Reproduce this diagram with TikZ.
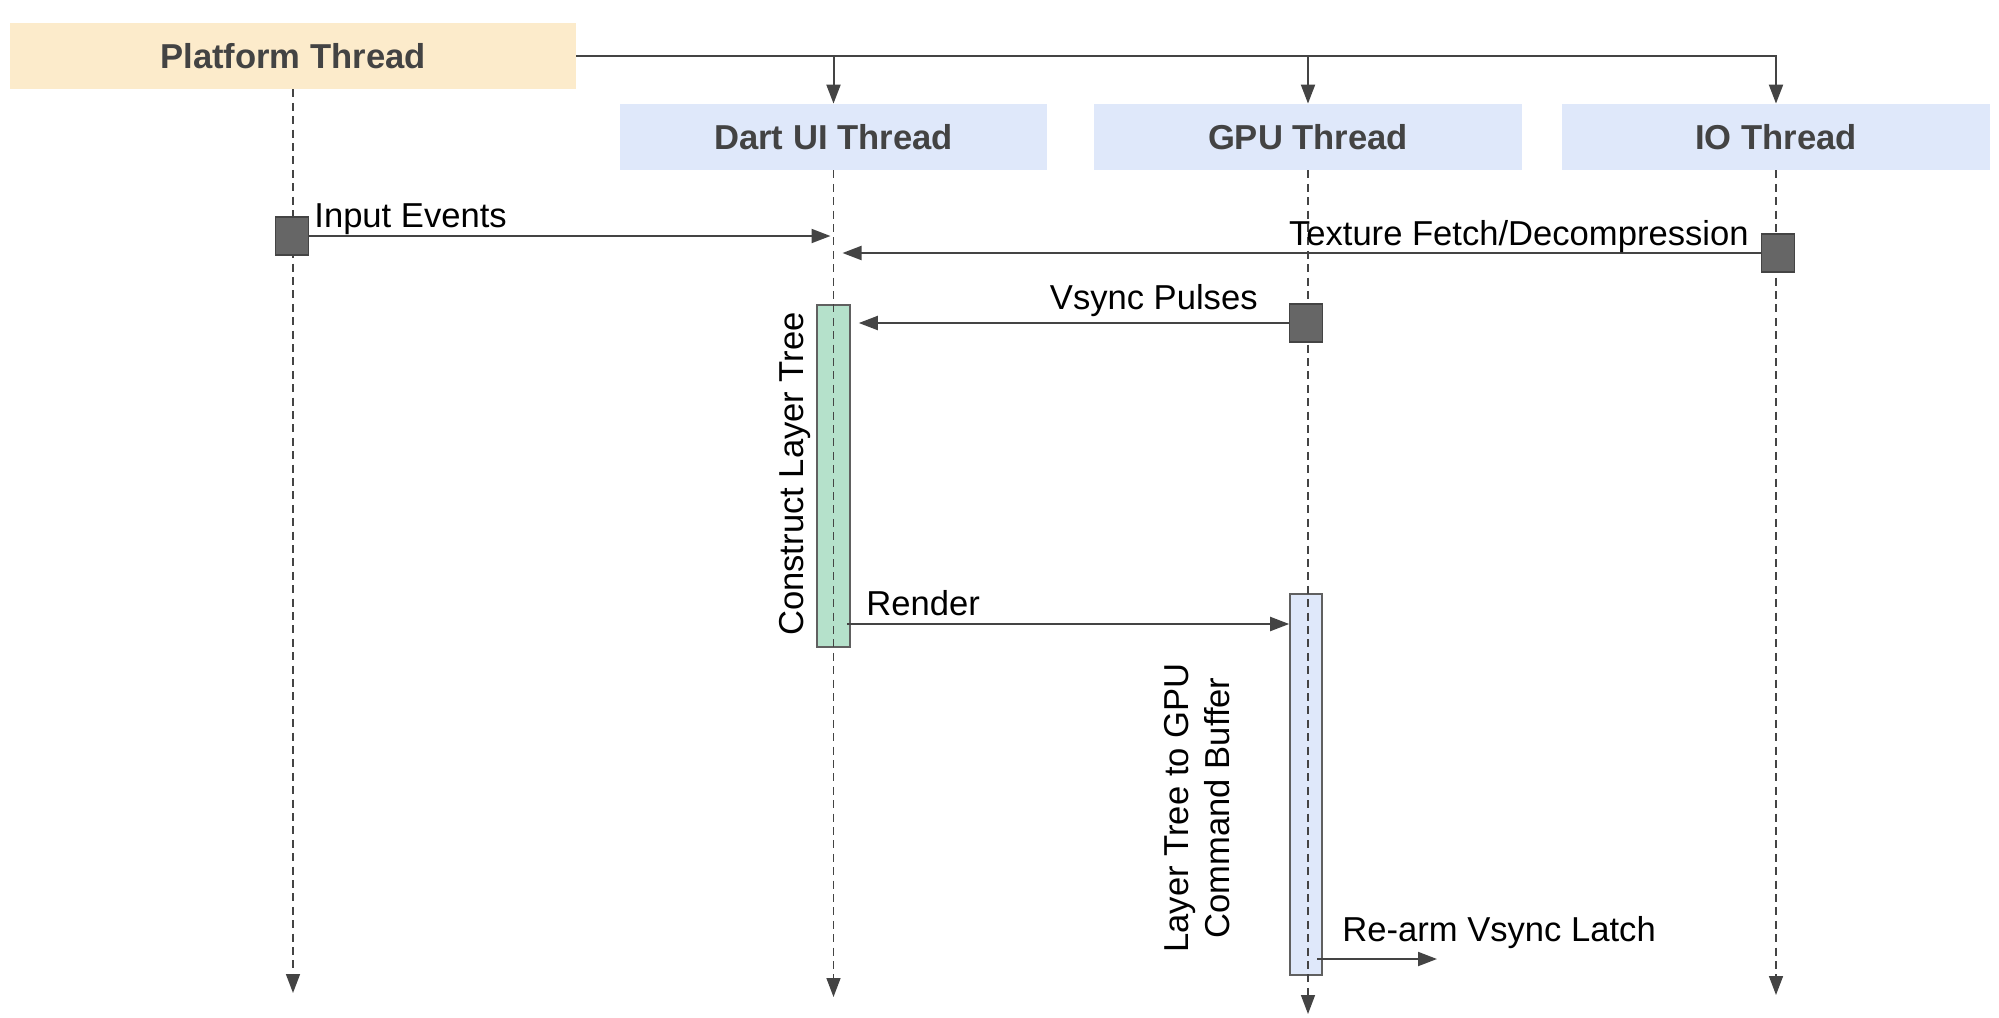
\documentclass[tikz,border=0pt]{standalone}
\usepackage{fontspec}
\setmainfont{Liberation Sans}
\usetikzlibrary{arrows.meta,positioning}

\definecolor{linegray}{HTML}{444444}
\definecolor{boxgray}{HTML}{666666}
\definecolor{headtext}{HTML}{434343}
\definecolor{platformfill}{HTML}{FCEBCB}
\definecolor{threadfill}{HTML}{DFE8FA}
\definecolor{buildfill}{HTML}{B5E1CB}

\tikzset{
  thread/.style={fill=threadfill, minimum height=33pt, inner sep=0pt,
    font=\bfseries\fontsize{17.3}{20}\selectfont, text=headtext},
  lifeline/.style={draw=linegray, line width=0.75pt, dash pattern=on 4pt off 2.7pt,
    -{Triangle[length=9.5pt,width=7pt]}},
  msg/.style={draw=linegray, line width=1pt, -{Triangle[length=9.5pt,width=7pt]}},
  event/.style={draw=linegray, fill=boxgray, line width=0.8pt,
    minimum width=16.5pt, minimum height=19pt, inner sep=0pt},
  activity/.style={draw=linegray!85, line width=0.8pt, minimum width=16.5pt, inner sep=0pt},
  lbl/.style={inner sep=0pt, font=\fontsize{17.3}{20.5}\selectfont},
}

\begin{document}
\begin{tikzpicture}[x=0.5pt, y=-0.5pt]
    \useasboundingbox (0,0) rectangle (1999,1018);

    % thread headers
    \node[thread, fill=platformfill, minimum width=283pt] (platform) at (293,56) {Platform Thread};
    \node[thread, minimum width=213.5pt] (dartui) at (833.5,137) {Dart UI Thread};
    \node[thread, minimum width=214pt] (gpu) at (1308,137) {GPU Thread};
    \node[thread, minimum width=214pt] (io) at (1776,137) {IO Thread};

    \draw[msg] (platform.east) -| (io.north);
    \draw[msg] (platform.east -| dartui.north) -- (dartui.north);
    \draw[msg] (platform.east -| gpu.north) -- (gpu.north);

    % work on the UI and GPU threads
    \node[activity, fill=buildfill, minimum height=171pt] (build) at (833.5,476) {};
    \node[activity, fill=threadfill, minimum width=16pt, minimum height=190.5pt] (raster) at (1306,784.5) {};

    % lifelines
    \coordinate (platformend) at (293,993);
    \coordinate (dartuiend) at (833.5,997);
    \coordinate (gpuend) at (1308,1014);
    \coordinate (ioend) at (1776,995);
    \draw[lifeline] (platform.south) -- (platformend);
    \draw[lifeline] (dartui.south) -- (dartuiend);
    \draw[lifeline] (gpu.south) -- (gpuend);
    \draw[lifeline] (io.south) -- (ioend);

    % events
    \node[event] (inputev) at (292,236) {};
    \node[event] (ioev) at (1778,253) {};
    \node[event] (vsyncev) at (1306,323) {};

    % messages
    \draw[msg, shorten >=1.5pt] (inputev.east) -- (inputev.east -| dartui.south);
    \draw[msg, shorten >=4.5pt] (ioev.west) -- (ioev.west -| dartui.south);
    \draw[msg, shorten >=4pt] (vsyncev.west) -- (vsyncev.west -| build.east);
    \coordinate (renderstart) at (847,624);
    \draw[msg] (renderstart) -- (renderstart -| raster.west);
    \coordinate (rearmstart) at (1317,959);
    \coordinate (rearmend) at (1437,959);
    \draw[msg] (rearmstart) -- (rearmend);

    % labels
    \node[lbl, anchor=base west] (inputlbl) at (314,227) {Input Events};
    \node[lbl, anchor=base east] (iolbl) at (1749,245) {Texture Fetch/Decompression};
    \node[lbl, anchor=base east] (vsynclbl) at (1258,309) {Vsync Pulses};
    \node[lbl, anchor=base west] (renderlbl) at (866,615) {Render};
    \node[lbl, anchor=base west] (rearmlbl) at (1342,941) {Re-arm Vsync Latch};
    \node[lbl, rotate=90, anchor=base] (buildlbl) at (803,474) {Construct Layer Tree};
    \node[lbl, rotate=90, align=center] (rasterlbl) at (1197,808) {Layer Tree to GPU\\Command Buffer};
\end{tikzpicture}
\end{document}
